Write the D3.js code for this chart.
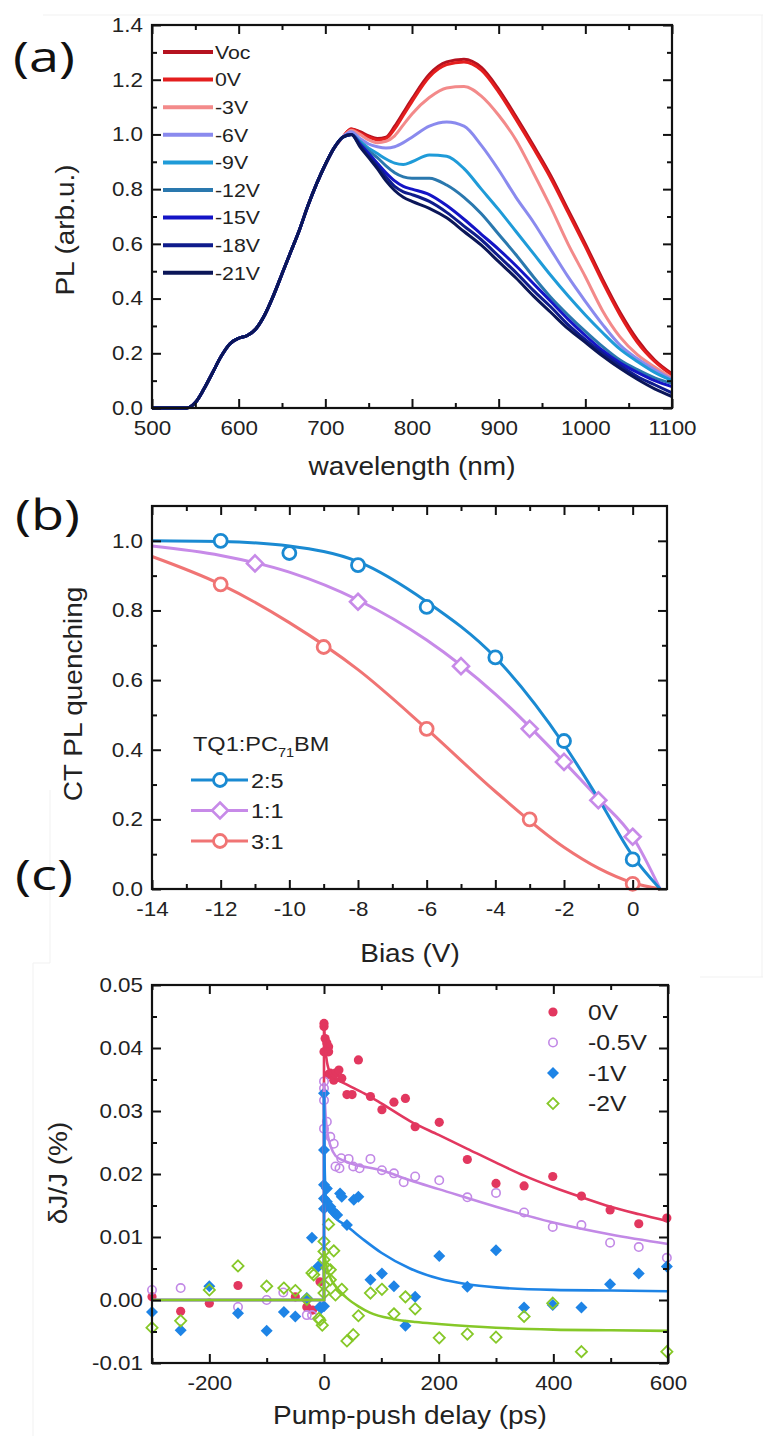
<!DOCTYPE html>
<html>
<head>
<meta charset="utf-8">
<script src="https://cdnjs.cloudflare.com/ajax/libs/d3/7.8.5/d3.min.js"></script>
<style>
body { margin: 0; background: #fff; }
svg text { font-family: "Liberation Sans", Arial, sans-serif; fill: #222; }
.tk text { font-size: 20px; }
.ttl { font-size: 25px; }
.lab { font-family: "Open Sans", sans-serif !important; font-size: 42px; fill: #111 !important; }
</style>
</head>
<body>
<div id="grafico"></div>
<script>
// ---- panel (a): PL spectra ----
var lambdaRise = [500, 540, 550, 560, 570, 580, 590, 600, 610, 620, 630, 640, 650, 660, 670, 680, 690, 700, 710, 720];
var plRise = [0, 0, 0.02, 0.07, 0.13, 0.19, 0.235, 0.255, 0.265, 0.29, 0.34, 0.41, 0.49, 0.57, 0.65, 0.74, 0.82, 0.89, 0.95, 0.99];
var lambdaTail = [730, 740, 750, 760, 770, 780, 790, 800, 820, 840, 860, 880, 900, 920, 940, 960, 980, 1000, 1020, 1040, 1060, 1080, 1100];
var plVoc = [1.02, 1.01, 0.995, 0.985, 0.99, 1.03, 1.08, 1.13, 1.22, 1.265, 1.275, 1.245, 1.165, 1.065, 0.96, 0.85, 0.725, 0.6, 0.47, 0.35, 0.25, 0.175, 0.125];
var pl0V = [1.02, 1.005, 0.99, 0.98, 0.985, 1.02, 1.07, 1.12, 1.21, 1.255, 1.265, 1.235, 1.155, 1.055, 0.95, 0.84, 0.715, 0.59, 0.46, 0.34, 0.24, 0.17, 0.12];
var plm3V = [1.015, 1.0, 0.98, 0.97, 0.975, 0.995, 1.035, 1.075, 1.135, 1.17, 1.175, 1.14, 1.07, 0.98, 0.86, 0.735, 0.6, 0.48, 0.355, 0.26, 0.195, 0.15, 0.11];
var plm6V = [1.01, 0.985, 0.965, 0.955, 0.95, 0.955, 0.97, 0.99, 1.03, 1.045, 1.03, 0.96, 0.87, 0.77, 0.68, 0.58, 0.48, 0.39, 0.305, 0.23, 0.18, 0.14, 0.105];
var plm9V = [1.0, 0.975, 0.95, 0.93, 0.91, 0.895, 0.89, 0.9, 0.925, 0.92, 0.875, 0.8, 0.725, 0.645, 0.565, 0.485, 0.41, 0.34, 0.275, 0.215, 0.17, 0.13, 0.1];
var plm12V = [1.0, 0.97, 0.94, 0.915, 0.885, 0.86, 0.845, 0.84, 0.84, 0.815, 0.77, 0.71, 0.635, 0.56, 0.48, 0.405, 0.34, 0.28, 0.224, 0.175, 0.14, 0.11, 0.09];
var plm15V = [1.0, 0.965, 0.93, 0.895, 0.86, 0.83, 0.81, 0.8, 0.78, 0.74, 0.69, 0.635, 0.58, 0.52, 0.455, 0.39, 0.325, 0.265, 0.21, 0.165, 0.13, 0.1, 0.078];
var plm18V = [1.0, 0.96, 0.92, 0.885, 0.845, 0.81, 0.79, 0.78, 0.755, 0.715, 0.665, 0.615, 0.555, 0.495, 0.43, 0.37, 0.305, 0.25, 0.2, 0.155, 0.115, 0.085, 0.055];
var plm21V = [1.0, 0.955, 0.915, 0.875, 0.83, 0.795, 0.77, 0.755, 0.73, 0.695, 0.645, 0.595, 0.535, 0.475, 0.41, 0.35, 0.29, 0.24, 0.19, 0.145, 0.105, 0.07, 0.042];
var biasNames = ["Voc", "0V", "-3V", "-6V", "-9V", "-12V", "-15V", "-18V", "-21V"];
var biasTails = [plVoc, pl0V, plm3V, plm6V, plm9V, plm12V, plm15V, plm18V, plm21V];
var biasColors = ["#b5121f", "#e41e1e", "#f38a8a", "#8a8aee", "#1f9bd8", "#2a78ae", "#1414c6", "#0f1c8c", "#0b1658"];

// ---- panel (b): CT PL quenching ----
var bias25 = [-12, -10, -8, -6, -4, -2, 0];
var q25 = [1.0, 0.965, 0.93, 0.81, 0.665, 0.425, 0.085];
var bias11 = [-11, -8, -5, -3, -2, -1, 0];
var q11 = [0.935, 0.825, 0.64, 0.46, 0.365, 0.255, 0.15];
var bias31 = [-12, -9, -6, -3, 0];
var q31 = [0.875, 0.695, 0.46, 0.2, 0.015];
var fitBias = [-14, -12, -10, -8, -6, -4, -2, -1, 0, 0.8];
var fit25 = [1.0, 0.998, 0.985, 0.94, 0.825, 0.665, 0.415, 0.26, 0.095, 0];
var fit11 = [0.985, 0.958, 0.91, 0.83, 0.715, 0.56, 0.365, 0.26, 0.15, 0];
var fit31 = [0.955, 0.875, 0.765, 0.63, 0.46, 0.28, 0.12, 0.06, 0.018, 0];
var ratioNames = ["2:5", "1:1", "3:1"];

// ---- panel (c): pump-push photocurrent ----
var pts0V = [[-300, 0.0005], [-250, -0.0018], [-200, -0.0005], [-150, 0.0023], [-50, 0.0005], [-30, -0.0011], [-20, -0.0016], [-7, 0.0029],
  [0, 0.0439], [0, 0.0434], [2, 0.0415], [5, 0.0408], [8, 0.0402], [0, 0.0394], [8, 0.0394], [8, 0.0358], [11, 0.036], [17, 0.0349], [20, 0.036],
  [26, 0.0365], [31, 0.0352], [40, 0.0326], [49, 0.0326], [60, 0.0381], [81, 0.0323], [101, 0.0302], [122, 0.0314], [142, 0.032], [159, 0.0275],
  [201, 0.0282], [250, 0.0223], [300, 0.0185], [349, 0.0181], [399, 0.0196], [449, 0.0165], [499, 0.0143], [549, 0.0121], [598, 0.013]];
var pts05V = [[-300, 0.0016], [-250, 0.0019], [-150, -0.0011], [-100, 0], [-71, 0.0012], [-30, -0.0024], [-21, -0.0024],
  [0, 0.0347], [0, 0.0336], [0, 0.0317], [5, 0.0283], [0, 0.0272], [11, 0.0259], [17, 0.0248], [30, 0.0225], [43, 0.0224], [20, 0.0212],
  [27, 0.0209], [51, 0.0212], [62, 0.0209], [81, 0.0224], [101, 0.0206], [122, 0.0201], [139, 0.0187], [159, 0.0196], [201, 0.019],
  [250, 0.0163], [300, 0.017], [349, 0.0139], [399, 0.0116], [449, 0.0119], [499, 0.0091], [549, 0.0084], [598, 0.0067]];
var pts1V = [[-300, -0.0019], [-250, -0.0048], [-200, 0.0022], [-150, -0.0021], [-100, -0.0049], [-70, -0.0019], [-50, -0.0026], [-30, 0.0003],
  [-21, 0.0099], [-10, 0.0053], [-7, -0.0011], [-5, -0.0013], [0, -0.001],
  [0, 0.0328], [0, 0.0238], [0, 0.0183], [5, 0.0177], [0, 0.0161], [5, 0.0156], [0, 0.0145], [11, 0.0148], [17, 0.014], [23, 0.0135],
  [28, 0.0169], [31, 0.0164], [40, 0.0119], [52, 0.0159], [60, 0.0164], [81, 0.0032], [101, 0.0042], [122, 0.0022], [142, -0.0041],
  [159, 0.0005], [201, 0.007], [250, 0.0021], [300, 0.0079], [349, -0.0012], [399, -0.0008], [449, -0.0012], [499, 0.0025], [549, 0.0042], [598, 0.0053]];
var pts2V = [[-300, -0.0044], [-250, -0.0033], [-200, 0.0016], [-150, 0.0054], [-100, 0.0022], [-70, 0.0019], [-50, 0.0015], [-30, 0.0001],
  [-21, 0.0043], [-18, 0.004], [-9, -0.0029], [-7, -0.0032], [-3, -0.004],
  [0, 0.0093], [0, 0.0077], [0, 0.0064], [0, 0.0024], [0, 0.0011], [5, 0.0051], [8, 0.012], [11, 0.0048], [11, 0.0032], [17, 0.0078],
  [20, 0.0008], [31, 0.0017], [40, -0.0065], [51, -0.0055], [60, -0.0025], [81, 0.0011], [101, 0.0017], [122, -0.0022], [142, 0.0005],
  [159, -0.0014], [201, -0.006], [250, -0.0054], [300, -0.0059], [349, -0.0026], [399, -0.0005], [449, -0.0082], [598, -0.0082]];
var fit0V = [[0, 0.0435], [4, 0.0385], [10, 0.0362], [20, 0.0352], [40, 0.0342], [70, 0.0328], [100, 0.0312], [150, 0.0284], [200, 0.0262],
  [250, 0.024], [300, 0.0218], [350, 0.0197], [400, 0.0179], [450, 0.0163], [500, 0.0148], [550, 0.0136], [600, 0.0125]];
var fit05V = [[0, 0.0345], [3, 0.029], [7, 0.026], [12, 0.0243], [20, 0.0229], [35, 0.0221], [50, 0.0216], [100, 0.0206], [150, 0.019],
  [200, 0.0176], [300, 0.0148], [400, 0.0123], [500, 0.0104], [600, 0.0089]];
var fit1V = [[0, 0.033], [1, 0.022], [3, 0.0165], [6, 0.0145], [12, 0.0138], [20, 0.013], [40, 0.0117], [70, 0.0095], [100, 0.0075],
  [150, 0.005], [200, 0.0034], [250, 0.0025], [300, 0.002], [400, 0.0016], [500, 0.0015], [600, 0.0014]];
var fit2V = [[0, 0.0078], [3, 0.006], [8, 0.0042], [14, 0.003], [20, 0.0022], [40, 0.0003], [60, -0.001], [80, -0.002], [120, -0.003],
  [160, -0.0035], [200, -0.0038], [300, -0.0044], [400, -0.0047], [500, -0.0048], [600, -0.0049]];
var pumpNames = ["0V", "-0.5V", "-1V", "-2V"];

var width = 763,
    height = 1436;

// plain hyphen instead of the unicode minus
var fmt = d3.formatLocale({decimal: ".", thousands: ",", grouping: [3], currency: ["", ""], minus: "-"}).format;

var svg = d3.select("#grafico").append("svg")
    .attr("width", width)
    .attr("height", height);

svg.append("rect").attr("width", width).attr("height", height).attr("fill", "#fff");

// faint edges of the pasted figures
var faint = [[43, 15, 763, 15], [50, 790, 50, 963], [33, 963, 50, 963], [33, 963, 33, 1436], [762, 15, 762, 977], [700, 977, 763, 977]];
faint.forEach(function(f) {
  svg.append("line").attr("x1", f[0]).attr("y1", f[1]).attr("x2", f[2]).attr("y2", f[3])
    .attr("stroke", "#f1f1f1").attr("stroke-width", 1);
});

function stretch(sel, origin) {
  sel.style("transform-box", "fill-box")
    .style("transform-origin", origin)
    .style("transform", "scaleX(1.12)");
}

function diamond(r) {
  return "M0," + (-r) + "L" + r + ",0L0," + r + "L" + (-r) + ",0Z";
}

function eixos(g, x, y, xMaj, xMin, yMaj, yMin, xFmt, yFmt, padX) {
  var w = x.range()[1], h = y.range()[0];
  var bx = g.append("g").attr("class", "tk").attr("transform", "translate(0," + h + ")")
    .call(d3.axisBottom(x).tickValues(xMaj).tickSize(-9).tickPadding(padX).tickFormat(xFmt));
  g.append("g").attr("transform", "translate(0," + h + ")")
    .call(d3.axisBottom(x).tickValues(xMin).tickSize(-5).tickFormat(""));
  g.append("g").call(d3.axisTop(x).tickValues(xMaj).tickSize(-9).tickFormat(""));
  g.append("g").call(d3.axisTop(x).tickValues(xMin).tickSize(-5).tickFormat(""));
  var by = g.append("g").attr("class", "tk")
    .call(d3.axisLeft(y).tickValues(yMaj).tickSize(-9).tickPadding(9).tickFormat(yFmt));
  g.append("g").call(d3.axisLeft(y).tickValues(yMin).tickSize(-5).tickFormat(""));
  g.append("g").attr("transform", "translate(" + w + ",0)")
    .call(d3.axisRight(y).tickValues(yMaj).tickSize(-9).tickFormat(""));
  g.append("g").attr("transform", "translate(" + w + ",0)")
    .call(d3.axisRight(y).tickValues(yMin).tickSize(-5).tickFormat(""));
  g.selectAll(".domain").remove();
  g.selectAll(".tick line").attr("stroke", "#111").attr("stroke-width", 2);
  stretch(bx.selectAll("text"), "50% 50%");
  stretch(by.selectAll("text"), "100% 50%");
  g.append("rect").attr("width", w).attr("height", h)
    .attr("fill", "none").attr("stroke", "#111").attr("stroke-width", 2.2);
}

function titulo(txt, cx, cy, rot) {
  var g = svg.append("g").attr("transform", "translate(" + cx + "," + cy + ")" + (rot ? " rotate(-90)" : ""));
  var t = g.append("text").attr("class", "ttl").attr("text-anchor", "middle").attr("dy", "0.35em").text(txt);
  stretch(t, "50% 50%");
  return t;
}

function letra(txt, x, y, len) {
  svg.append("text").attr("class", "lab").attr("x", x).attr("y", y)
    .attr("textLength", len).attr("lengthAdjust", "spacingAndGlyphs").text(txt);
}

// ================= (a) =================
var ga = svg.append("g").attr("transform", "translate(152,25)");
var xa = d3.scaleLinear().domain([500, 1100]).range([0, 520]);
var ya = d3.scaleLinear().domain([0, 1.4]).range([383, 0]);

var linhaA = d3.line()
  .x(function(d) { return xa(d[0]); })
  .y(function(d) { return ya(d[1]); })
  .curve(d3.curveMonotoneX);

biasTails.forEach(function(tail, i) {
  var pts = lambdaRise.map(function(l, j) { return [l, plRise[j]]; })
    .concat(lambdaTail.map(function(l, j) { return [l, tail[j]]; }));
  ga.append("path")
    .attr("d", linhaA(pts))
    .attr("fill", "none")
    .attr("stroke", biasColors[i])
    .attr("stroke-width", 3)
    .attr("stroke-linejoin", "round");
});

eixos(ga, xa, ya, d3.range(500, 1101, 100), d3.range(550, 1100, 100),
  d3.range(0, 1.41, 0.2), d3.range(0.1, 1.4, 0.2), fmt("d"), fmt(".1f"), 13);

biasNames.forEach(function(n, i) {
  var yy = 52 + i * 27.6;
  svg.append("line").attr("x1", 163).attr("x2", 213).attr("y1", yy).attr("y2", yy)
    .attr("stroke", biasColors[i]).attr("stroke-width", 4);
  var t = svg.append("text").attr("x", 215).attr("y", yy).attr("dy", "0.36em")
    .attr("font-size", 19).text(n);
  stretch(t, "0% 50%");
});

titulo("wavelength (nm)", 412, 466, false);
titulo("PL (arb.u.)", 65, 230, true);
letra("(a)", 13, 72, 62);

// ================= (b) =================
var gb = svg.append("g").attr("transform", "translate(152,506)");
var xb = d3.scaleLinear().domain([-14, 1]).range([0, 515]);
var yb = d3.scaleLinear().domain([0, 1.1]).range([383, 0]);

var linhaB = d3.line()
  .x(function(d) { return xb(d[0]); })
  .y(function(d) { return yb(d[1]); })
  .curve(d3.curveMonotoneX);

var serieB = [
  {fit: fit25, bx: bias25, q: q25, cor: "#1a8ad2", shape: "circle"},
  {fit: fit11, bx: bias11, q: q11, cor: "#c78ae8", shape: "diamond"},
  {fit: fit31, bx: bias31, q: q31, cor: "#f07474", shape: "circle"}
];

serieB.slice().reverse().forEach(function(s) {
  gb.append("path")
    .attr("d", linhaB(fitBias.map(function(b, j) { return [b, s.fit[j]]; })))
    .attr("fill", "none").attr("stroke", s.cor).attr("stroke-width", 3);
});

function marcaB(g, s, x, y) {
  if (s.shape == "circle") {
    g.append("circle").attr("cx", x).attr("cy", y).attr("r", 6.5)
      .attr("fill", "#fff").attr("stroke", s.cor).attr("stroke-width", 2.8);
  } else {
    g.append("path").attr("d", diamond(8)).attr("transform", "translate(" + x + "," + y + ")")
      .attr("fill", "#fff").attr("stroke", s.cor).attr("stroke-width", 2.6);
  }
}

serieB.forEach(function(s) {
  s.bx.forEach(function(b, j) { marcaB(gb, s, xb(b), yb(s.q[j])); });
});

eixos(gb, xb, yb, d3.range(-14, 1, 2), d3.range(-13, 1, 2),
  d3.range(0, 1.01, 0.2), d3.range(0.1, 1.1, 0.2), fmt("d"), fmt(".1f"), 13);

var lt = svg.append("text").attr("x", 193).attr("y", 751).attr("font-size", 21);
lt.append("tspan").text("TQ1:PC");
lt.append("tspan").attr("font-size", 13).attr("dy", 6).text("71");
lt.append("tspan").attr("dy", -6).text("BM");
stretch(lt, "0% 50%");

serieB.forEach(function(s, i) {
  var yy = 780 + i * 30.5;
  svg.append("line").attr("x1", 191).attr("x2", 248).attr("y1", yy).attr("y2", yy)
    .attr("stroke", s.cor).attr("stroke-width", 3);
  marcaB(svg, s, 220, yy);
  var t = svg.append("text").attr("x", 251).attr("y", yy).attr("dy", "0.36em")
    .attr("font-size", 21).text(ratioNames[i]);
  stretch(t, "0% 50%");
});

titulo("Bias (V)", 410, 953, false);
titulo("CT PL quenching", 73, 694, true);
letra("(b)", 15, 530, 65);

// ================= (c) =================
var gc = svg.append("g").attr("transform", "translate(152,985)");
var xc = d3.scaleLinear().domain([-300, 600]).range([0, 516]);
var yc = d3.scaleLinear().domain([-0.01, 0.05]).range([378, 0]);

var linhaC = d3.line()
  .x(function(d) { return xc(d[0]); })
  .y(function(d) { return yc(d[1]); });

var serieC = [
  {pts: pts0V, fit: fit0V, cor: "#e2375f", mk: "dot"},
  {pts: pts05V, fit: fit05V, cor: "#c289e6", mk: "ring"},
  {pts: pts1V, fit: fit1V, cor: "#1e84e6", mk: "dia"},
  {pts: pts2V, fit: fit2V, cor: "#86c828", mk: "odia"}
];

function marcaC(g, mk, cor, x, y) {
  if (mk == "dot") {
    g.append("circle").attr("cx", x).attr("cy", y).attr("r", 4.6).attr("fill", cor);
  } else if (mk == "ring") {
    g.append("circle").attr("cx", x).attr("cy", y).attr("r", 4.2)
      .attr("fill", "none").attr("stroke", cor).attr("stroke-width", 1.6);
  } else if (mk == "dia") {
    g.append("path").attr("d", diamond(6)).attr("transform", "translate(" + x + "," + y + ")").attr("fill", cor);
  } else {
    g.append("path").attr("d", diamond(5.6)).attr("transform", "translate(" + x + "," + y + ")")
      .attr("fill", "none").attr("stroke", cor).attr("stroke-width", 1.8);
  }
}

serieC.forEach(function(s) {
  s.pts.forEach(function(p) { marcaC(gc, s.mk, s.cor, xc(p[0]), yc(p[1])); });
});

serieC.forEach(function(s) {
  var peak = s.fit[0][1];
  gc.append("path")
    .attr("d", linhaC([[-300, 0], [0, 0], [0, peak]]))
    .attr("fill", "none").attr("stroke", s.cor).attr("stroke-width", 2.6);
  gc.append("path")
    .attr("d", linhaC.curve(d3.curveMonotoneX)(s.fit))
    .attr("fill", "none").attr("stroke", s.cor).attr("stroke-width", 2.6);
  linhaC.curve(d3.curveLinear);
});

eixos(gc, xc, yc, d3.range(-200, 601, 200), d3.range(-300, 600, 100).filter(function(v) { return v % 200 != 0; }),
  d3.range(-0.01, 0.0501, 0.01), d3.range(-0.005, 0.05, 0.01), fmt("d"), fmt(".2f"), 13);

serieC.forEach(function(s, i) {
  var yy = 1012 + i * 30.5;
  marcaC(svg, s.mk, s.cor, 553, yy);
  var t = svg.append("text").attr("x", 588).attr("y", yy).attr("dy", "0.36em")
    .attr("font-size", 22).text(pumpNames[i]);
  stretch(t, "0% 50%");
});

titulo("Pump-push delay (ps)", 410, 1415, false);
titulo("\u03b4J/J (%)", 58, 1173, true);
letra("(c)", 15, 890, 58);
</script>
</body>
</html>
